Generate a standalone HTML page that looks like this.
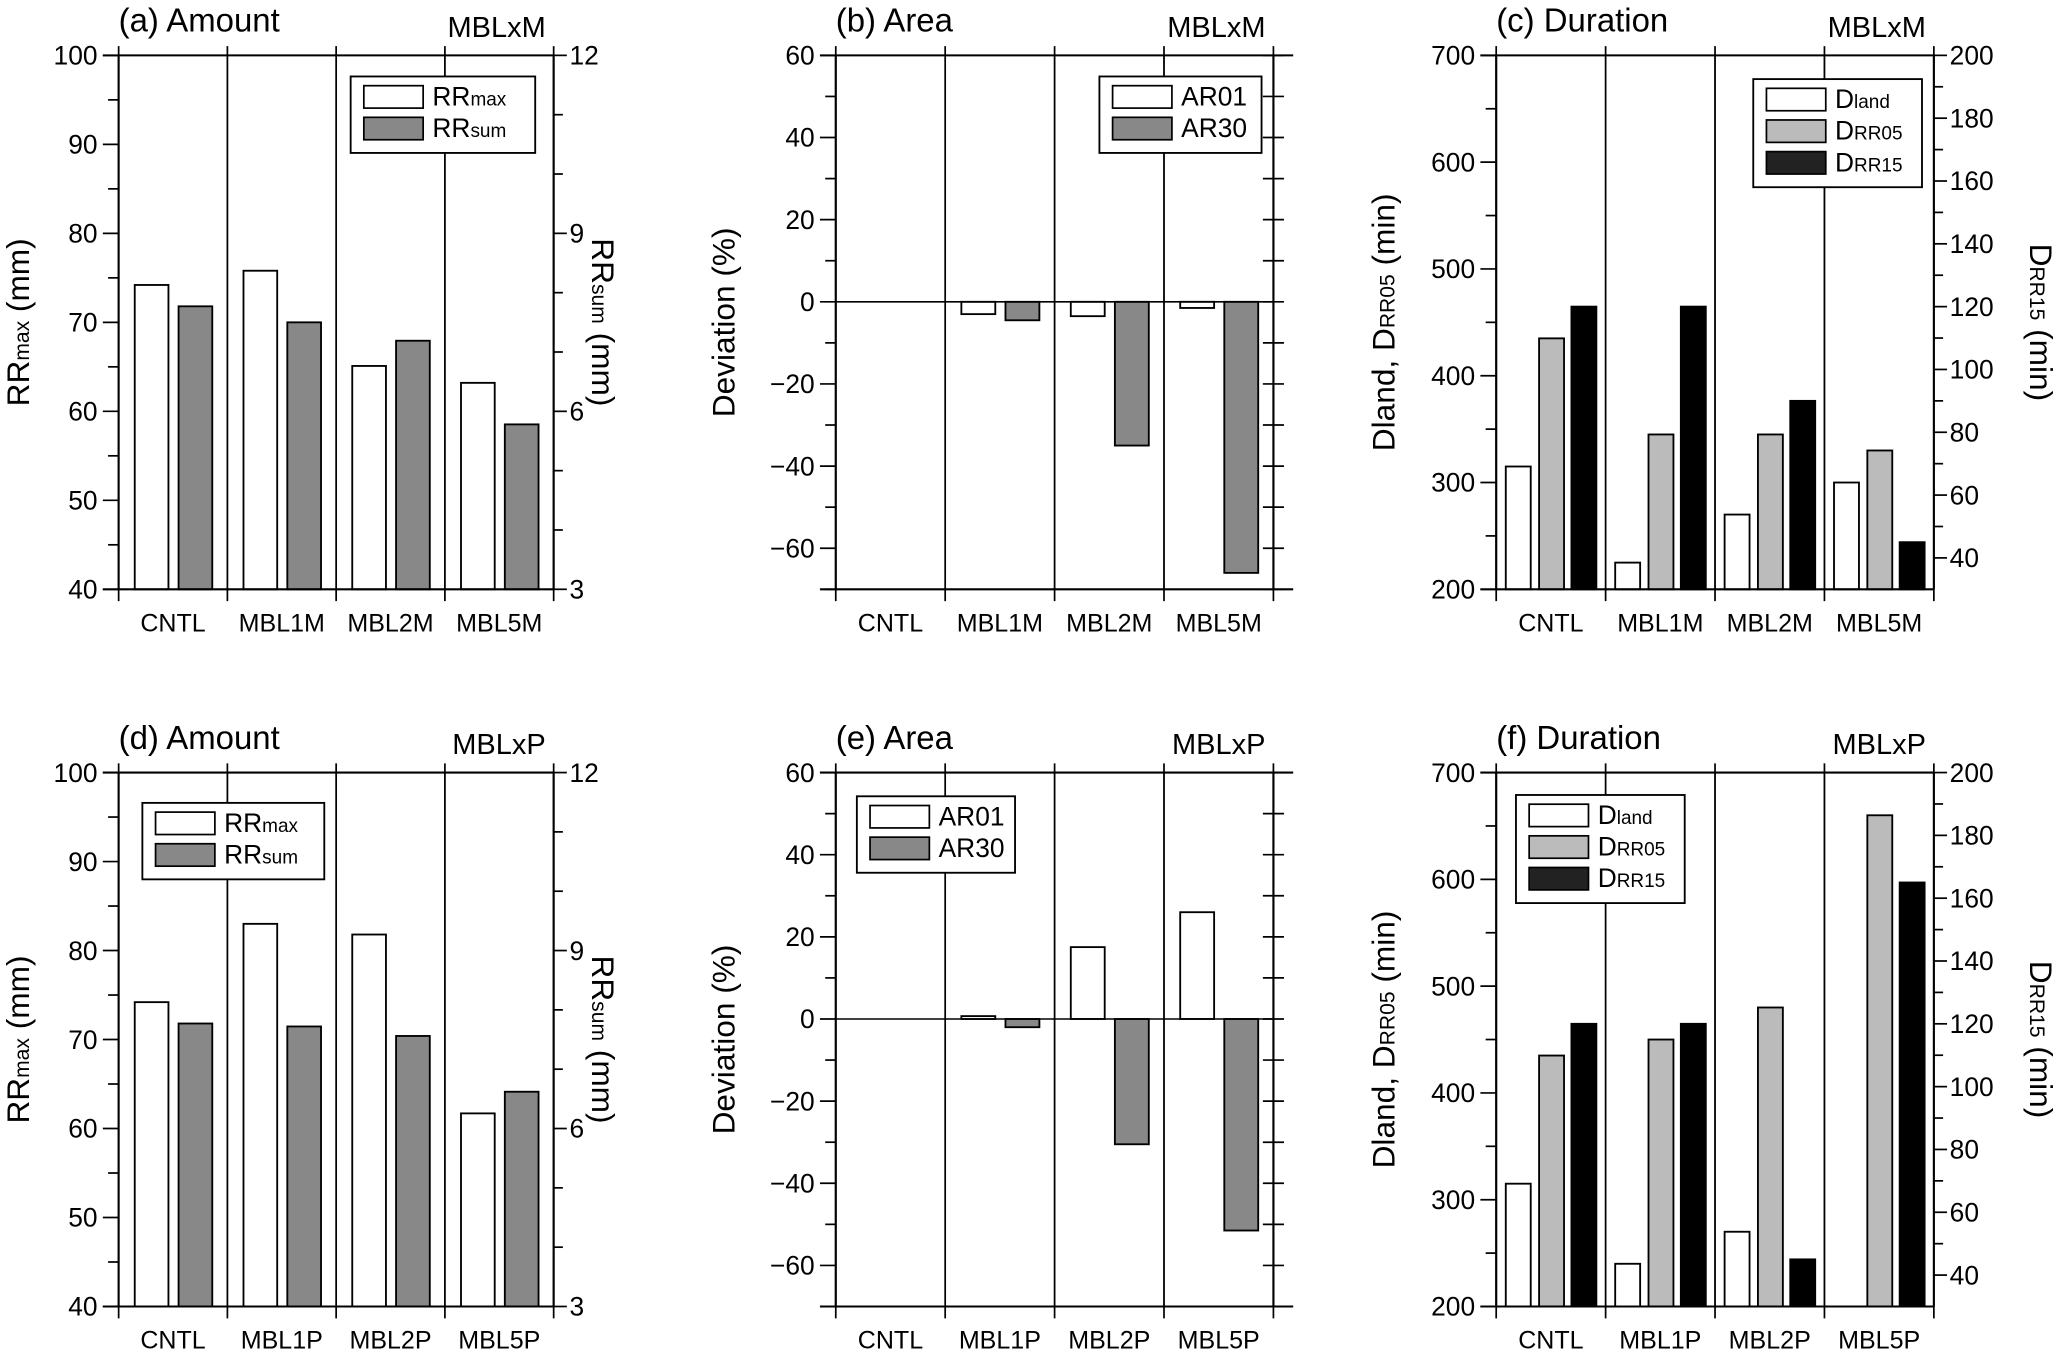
<!DOCTYPE html>
<html><head><meta charset="utf-8"><style>
html,body{margin:0;padding:0;background:#fff;}
svg{display:block;font-family:"Liberation Sans",Arial,sans-serif;}
</style></head><body>
<svg id="fig" width="2067" height="1350" viewBox="0 0 1568 1024" preserveAspectRatio="none" xmlns="http://www.w3.org/2000/svg"></svg>
<script>
const categoriesM = ['CNTL','MBL1M','MBL2M','MBL5M'];
const categoriesP = ['CNTL','MBL1P','MBL2P','MBL5P'];
const rrmaxM = [74.2, 75.8, 65.1, 63.2];
const rrsumM = [7.77, 7.5, 7.19, 5.78];
const rrmaxP = [74.2, 83.0, 81.8, 61.7];
const rrsumP = [7.77, 7.72, 7.56, 6.62];
const ar01M = [0, -3, -3.5, -1.5];
const ar30M = [0, -4.5, -35, -66];
const ar01P = [0, 0.7, 17.5, 26];
const ar30P = [0, -2, -30.5, -51.5];
const dlandM = [315, 225, 270, 300];
const drr05M = [435, 345, 345, 330];
const drr15M = [120, 120, 90, 45];
const dlandP = [315, 240, 270, null];
const drr05P = [435, 450, 480, 660];
const drr15P = [120, 120, 45, 165];
const amountLeftTicks = [40,50,60,70,80,90,100];
const amountRightTicks = [3,6,9,12];
const areaTicks = [-60,-40,-20,0,20,40,60];
const durLeftTicks = [200,300,400,500,600,700];
const durRightTicks = [40,60,80,100,120,140,160,180,200];

const NS='http://www.w3.org/2000/svg';
const svg=document.getElementById('fig');
function el(tag,attrs,parent){const e=document.createElementNS(NS,tag);for(const k in attrs)e.setAttribute(k,attrs[k]);(parent||svg).appendChild(e);return e;}
function line(x1,y1,x2,y2,w,p){return el('line',{x1,y1,x2,y2,stroke:'#000','stroke-width':w||1.3},p);}
function txt(s,x,y,size,anchor,p){const t=el('text',{x,y,'font-size':size,'text-anchor':anchor||'start',fill:'#000'},p);t.textContent=s;return t;}
function subTxt(main,sub,x,y,size,anchor,p){const t=el('text',{x,y,'font-size':size,'text-anchor':anchor||'start',fill:'#000'},p);
  const a=el('tspan',{},t);a.textContent=main;const b=el('tspan',{'font-size':size*0.72},t);b.textContent=sub;return t;}

function panel(cfg){
  const g=el('g',{});
  
  
  const {x0,x1,y0,y1}=cfg;
  const yL=v=>y1-(v-cfg.lmin)/(cfg.lmax-cfg.lmin)*(y1-y0);
  const yR=v=>y1-(v-cfg.rmin)/(cfg.rmax-cfg.rmin)*(y1-y0);
  const gw=(x1-x0)/4;
  for(let i=0;i<=4;i++){const x=x0+i*gw;line(x,y0-7,x,y1+9,1.3,g); if(i>0&&i<4){line(x,y0,x,y1,1,g);} }
  for(let i=0;i<4;i++){const t=txt(cfg.cats[i],x0+(i+0.5)*gw,y1+32,19,'middle',g);
    }
  const nS=cfg.series.length;
  const offs = nS===2?[0.148,0.551]:[0.0875,0.392,0.6875];
  const bw = nS===2?0.31:0.228;
  cfg.series.forEach((s,si)=>{
    s.data.forEach((v,i)=>{
      if(v===null||v===undefined)return;
      const sc = s.right?yR:yL;
      const base = cfg.zero!==undefined?yL(0):y1;
      const yv = sc(v);
      if(Math.abs(yv-base)<0.01)return;
      const r=el('rect',{x:x0+(i+offs[si])*gw,y:Math.min(yv,base),width:bw*gw,height:Math.abs(base-yv),fill:s.fill,stroke:'#000','stroke-width':1.4},g);
      
      
    });
  });
  if(cfg.zero!==undefined){line(x0,yL(0),x1,yL(0),1.2,g);}
  line(x0-12,y0,x1+(cfg.rightAxisExt||0),y0,1.6,g);
  line(x0-12,y1,x1+(cfg.rightAxisExt||0),y1,1.6,g);
  line(x0,y0,x0,y1,1.6,g);
  line(x1,y0,x1,y1,1.6,g);
  for(let v=cfg.lmin;v<=cfg.lmax+1e-9;v+=cfg.lminor){
    const major=cfg.lticks.some(t=>Math.abs(t-v)<1e-9);
    line(x0-(major?12:8),yL(v),x0,yL(v),1.3,g);
  }
  cfg.lticks.forEach(v=>{const t=txt(String(v).replace('-','\u2212'),x0-16,yL(v)+7,20,'end',g);
    });
  if(cfg.rticks){
    for(let v=cfg.rmin;v<=cfg.rmax+1e-9;v+=cfg.rminor){
      const major=cfg.rticks.some(t=>Math.abs(t-v)<1e-9);
      if(v<cfg.rticks[0]-1e-9)continue;
      line(x1,yR(v),x1+(major?10:7),yR(v),1.3,g);
    }
    cfg.rticks.forEach(v=>{const t=txt(String(v),x1+12,yR(v)+7,20,'start',g);
      });
  } else {
    for(let v=cfg.lmin; v<=cfg.lmax+1e-9; v+=cfg.lminor){
      line(x1-8,yL(v),x1+8,yL(v),1.3,g);
    }
  }
  const tt=txt(cfg.title,x0,y0-18,25,'start',g);
  
  const tg=txt(cfg.tag,x1-6,y0-14,22,'end',g);
  
  const ly=(y0+y1)/2;
  const lt=el('text',{x:0,y:0,'font-size':24,'text-anchor':'middle',fill:'#000',transform:`translate(${cfg.ylabX},${ly}) rotate(-90)`},g);
  
  cfg.ylab.forEach(([s,small])=>{const sp=el('tspan',small?{'font-size':16}:{},lt);sp.textContent=s;});
  if(cfg.rlab){
    const rt=el('text',{x:0,y:0,'font-size':24,'text-anchor':'middle',fill:'#000',transform:`translate(${cfg.rlabX},${ly}) rotate(90)`},g);
    
    cfg.rlab.forEach(([s,small])=>{const sp=el('tspan',small?{'font-size':16}:{},rt);sp.textContent=s;});
  }
  const L=cfg.legend;const lg=el('g',{},g);
  
  el('rect',{x:L.x,y:L.y,width:L.w,height:cfg.series.length*24+10,fill:'#fff',stroke:'#000','stroke-width':1.4},lg);
  cfg.series.forEach((s,si)=>{
    const yy=L.y+7+si*24;
    const sw=el('rect',{x:L.x+10,y:yy,width:45,height:17,fill:s.legFill||s.fill,stroke:'#000','stroke-width':1.3},lg);
    
    const lt2=subTxt(s.lab[0],s.lab[1],L.x+62,yy+15,20,'start',lg);
    
  });
}
const W='#fff',G='#888',LG='#bbb',K='#000';
const rrLab=[['RR'],['max',1],[' (mm)']];
const rsLab=[['RR'],['sum',1],[' (mm)']];
const devLab=[['Deviation (%)']];
const dLab=[['Dland, D'],['RR05',1],[' (min)']];
const d15Lab=[['D'],['RR15',1],[' (min)']];
function amt(name,y0,y1,cats,mx,sm,title,tag,leg){
  panel({name,x0:90,x1:420,y0,y1,lmin:40,lmax:100,lminor:5,lticks:amountLeftTicks,rmin:3,rmax:12,rminor:1,rticks:amountRightTicks,
    cats,title,tag,ylab:rrLab,ylabX:22,rlab:rsLab,rlabX:449,legend:leg,
    series:[{key:'rrmax',data:mx,fill:W,lab:['RR','max']},{key:'rrsum',data:sm,fill:G,right:true,lab:['RR','sum']}]});
}
function area(name,y0,y1,cats,a1,a3,title,tag,leg){
  panel({name,x0:634,x1:966,y0,y1,lmin:-70,lmax:60,lminor:10,lticks:areaTicks,zero:0,rightAxisExt:15,
    cats,title,tag,ylab:devLab,ylabX:557,legend:leg,
    series:[{key:'ar01',data:a1,fill:W,lab:['AR01','']},{key:'ar30',data:a3,fill:G,lab:['AR30','']}]});
}
function dur(name,y0,y1,cats,dl,d5,d15,title,tag,leg){
  panel({name,x0:1135,x1:1467,y0,y1,lmin:200,lmax:700,lminor:50,lticks:durLeftTicks,rmin:30,rmax:200,rminor:10,rticks:durRightTicks,
    cats,title,tag,ylab:dLab,ylabX:1058,rlab:d15Lab,rlabX:1540,legend:leg,
    series:[{key:'dland',data:dl,fill:W,lab:['D','land']},{key:'drr05',data:d5,fill:LG,lab:['D','RR05']},{key:'drr15',data:d15,fill:K,legFill:'#222',right:true,lab:['D','RR15']}]});
}
amt('panel-a-amount',42,447,categoriesM,rrmaxM,rrsumM,'(a) Amount','MBLxM',{x:266,y:58,w:140});
area('panel-b-area',42,447,categoriesM,ar01M,ar30M,'(b) Area','MBLxM',{x:834,y:58,w:123});
dur('panel-c-duration',42,447,categoriesM,dlandM,drr05M,drr15M,'(c) Duration','MBLxM',{x:1330,y:60,w:128});
amt('panel-d-amount',586,991,categoriesP,rrmaxP,rrsumP,'(d) Amount','MBLxP',{x:108,y:609,w:138});
area('panel-e-area',586,991,categoriesP,ar01P,ar30P,'(e) Area','MBLxP',{x:650,y:604,w:120});
dur('panel-f-duration',586,991,categoriesP,dlandP,drr05P,drr15P,'(f) Duration','MBLxP',{x:1150,y:603,w:128});
</script>
</body></html>
